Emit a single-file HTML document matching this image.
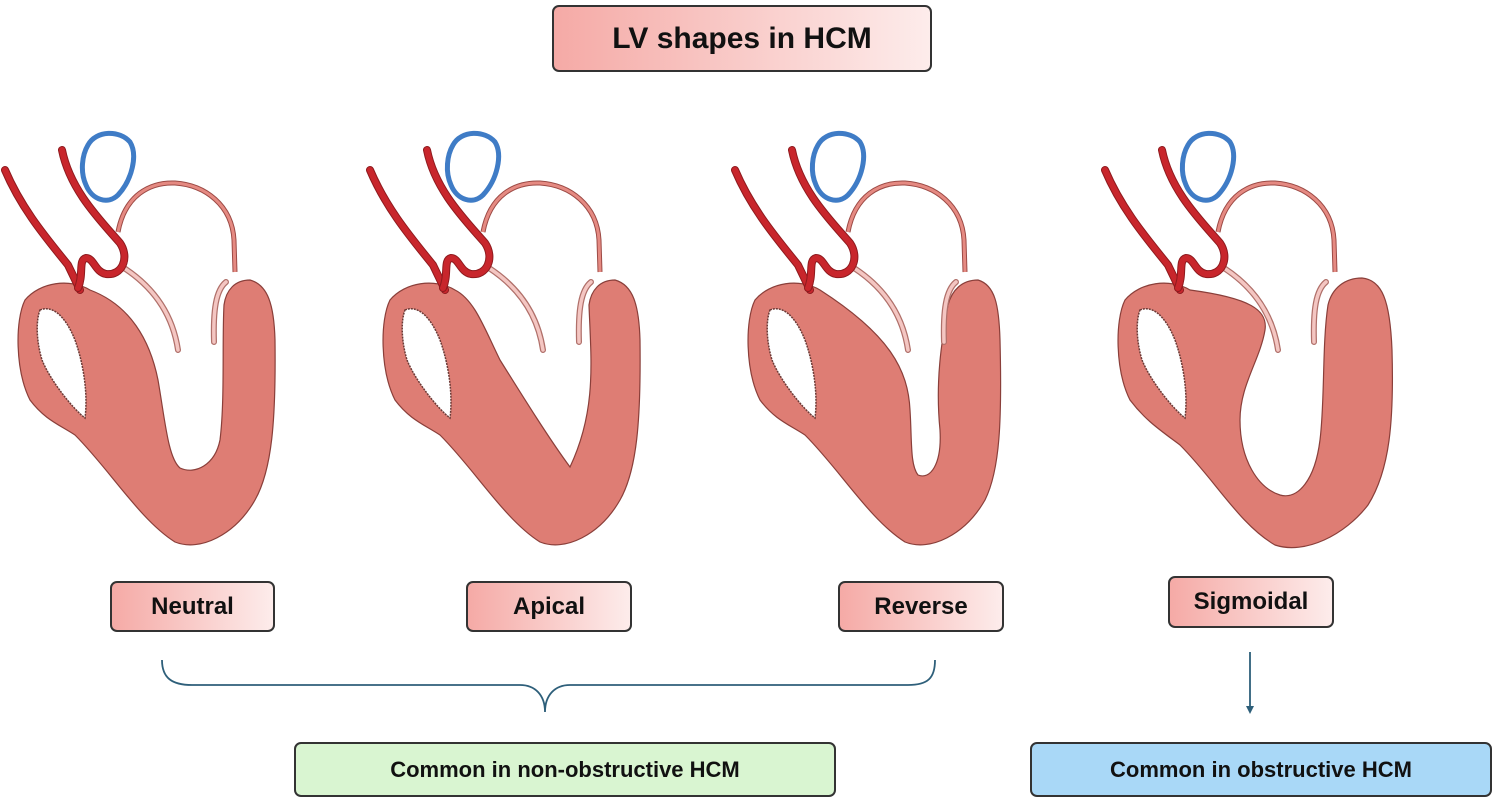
<!DOCTYPE html>
<html><head><meta charset="utf-8"><style>
body{margin:0;width:1501px;height:802px;background:#fff;overflow:hidden;position:relative;font-family:"Liberation Sans",Arial,sans-serif}
.b{position:absolute;box-sizing:border-box;border:2px solid #333;border-radius:7px;display:flex;align-items:center;justify-content:center;font-weight:bold;color:#111;background:linear-gradient(90deg,#f5aaa6,#fdeceb)}
</style></head><body>
<svg width="1501" height="802" style="position:absolute;left:0;top:0">
<defs>
<g id="top">
 <path d="M118,232 C125,195 150,182 175,183 C205,185 232,205 234,240 L235,272" fill="none" stroke="#9c4a45" stroke-width="5"/>
 <path d="M118,232 C125,195 150,182 175,183 C205,185 232,205 234,240 L235,272" fill="none" stroke="#e58a82" stroke-width="3"/>
 <path d="M5,170 C22,210 48,240 68,265 L80,290" fill="none" stroke="#8f1a1e" stroke-width="8" stroke-linecap="round"/>
 <path d="M5,170 C22,210 48,240 68,265 L80,290" fill="none" stroke="#c8262c" stroke-width="6" stroke-linecap="round"/>
 <path d="M62,150 C70,190 100,220 120,243 C130,258 122,276 106,274 C95,272 94,258 86,258 C78,260 84,274 78,288" fill="none" stroke="#8f1a1e" stroke-width="8" stroke-linecap="round"/>
 <path d="M62,150 C70,190 100,220 120,243 C130,258 122,276 106,274 C95,272 94,258 86,258 C78,260 84,274 78,288" fill="none" stroke="#c8262c" stroke-width="6" stroke-linecap="round"/>
 <path d="M88,145 C96,130 120,130 130,142 C138,155 132,180 118,195 C108,205 92,200 86,185 C80,172 82,155 88,145 Z" fill="none" stroke="#3f7cc6" stroke-width="5"/>
</g>
<g id="la">
 <path d="M40,310 C52,305 65,315 75,340 C84,365 88,395 85,418 C72,408 50,380 42,360 C36,340 36,320 40,310 Z" fill="#fff" stroke="#6b3a36" stroke-width="1.5" stroke-dasharray="2 1"/>
</g>
<g id="leaf">
 <path d="M124,268 C150,285 172,310 178,350" fill="none" stroke="#b0706a" stroke-width="6" stroke-linecap="round"/>
 <path d="M124,268 C150,285 172,310 178,350" fill="none" stroke="#f4c6c2" stroke-width="3.5" stroke-linecap="round"/>
 <path d="M226,282 C216,290 213,310 214,342" fill="none" stroke="#b0706a" stroke-width="6" stroke-linecap="round"/>
 <path d="M226,282 C216,290 213,310 214,342" fill="none" stroke="#f4c6c2" stroke-width="3.5" stroke-linecap="round"/>
</g>
</defs>
<g fill="#de7d74" stroke="#8a3f3a" stroke-width="1.2">
<g>
 <path d="M90,290 C70,278 40,282 25,300 C15,320 15,370 30,400 C45,420 60,425 75,435 C110,470 140,520 175,542 C200,552 235,535 255,500 C272,470 276,420 275,340 C274,305 268,285 250,280 C235,280 226,290 224,305 C222,340 225,400 220,440 C215,465 195,475 180,468 C168,458 165,420 158,380 C150,340 130,305 90,290 Z"/>
 <use href="#la"/><use href="#leaf"/><use href="#top"/>
</g>
<g transform="translate(365,0)">
 <path d="M90,290 C70,278 40,282 25,300 C15,320 15,370 30,400 C45,420 60,425 75,435 C110,470 140,520 175,542 C200,552 235,535 255,500 C272,470 276,420 275,340 C274,305 268,285 250,280 C235,280 226,290 224,305 C226,360 232,410 205,467 C185,440 160,400 135,360 C120,330 110,300 90,290 Z"/>
 <use href="#la"/><use href="#leaf"/><use href="#top"/>
</g>
<g transform="translate(730,0)">
 <path d="M90,290 C70,278 40,282 25,300 C15,320 15,370 30,400 C45,420 60,425 75,435 C110,470 140,520 175,542 C200,552 235,535 255,500 C270,470 272,420 270,340 C269,305 265,285 248,280 C232,280 222,290 218,305 C212,340 205,380 210,430 C212,465 200,480 188,475 C180,465 182,440 180,410 C178,370 160,335 90,290 Z"/>
 <use href="#la"/><use href="#leaf"/><use href="#top"/>
</g>
<g transform="translate(1100,0)">
 <path d="M90,290 C70,278 40,282 25,300 C15,320 15,370 30,400 C45,420 60,430 80,445 C115,480 140,525 175,545 C205,555 245,535 268,505 C290,470 294,420 292,350 C290,300 282,280 262,278 C245,278 232,288 228,305 C222,345 225,400 220,440 C215,480 198,500 180,495 C158,488 140,460 140,420 C140,385 160,360 165,330 C168,310 150,298 90,290 Z"/>
 <use href="#la"/><use href="#leaf"/><use href="#top"/>
</g>
</g>
<path d="M162,660 C162,678 172,685 192,685 L520,685 C535,685 545,695 545,712 C545,695 555,685 570,685 L908,685 C928,685 935,678 935,660" fill="none" stroke="#2e5f7a" stroke-width="1.8"/>
<line x1="1250" y1="652" x2="1250" y2="708" stroke="#2e5f7a" stroke-width="1.8"/>
<path d="M1246,706 L1250,714 L1254,706 Z" fill="#2e5f7a"/>
</svg>
<div class="b" style="left:552px;top:5px;width:380px;height:67px;font-size:30px">LV shapes in HCM</div>
<div class="b" style="left:110px;top:581px;width:165px;height:51px;font-size:24px">Neutral</div>
<div class="b" style="left:466px;top:581px;width:166px;height:51px;font-size:24px">Apical</div>
<div class="b" style="left:838px;top:581px;width:166px;height:51px;font-size:24px">Reverse</div>
<div class="b" style="left:1168px;top:576px;width:166px;height:52px;font-size:24px">Sigmoidal</div>
<div class="b" style="left:294px;top:742px;width:542px;height:55px;font-size:22px;background:#d9f5d1">Common in non-obstructive HCM</div>
<div class="b" style="left:1030px;top:742px;width:462px;height:55px;font-size:22px;background:#a9d8f7">Common in obstructive HCM</div>
</body></html>
